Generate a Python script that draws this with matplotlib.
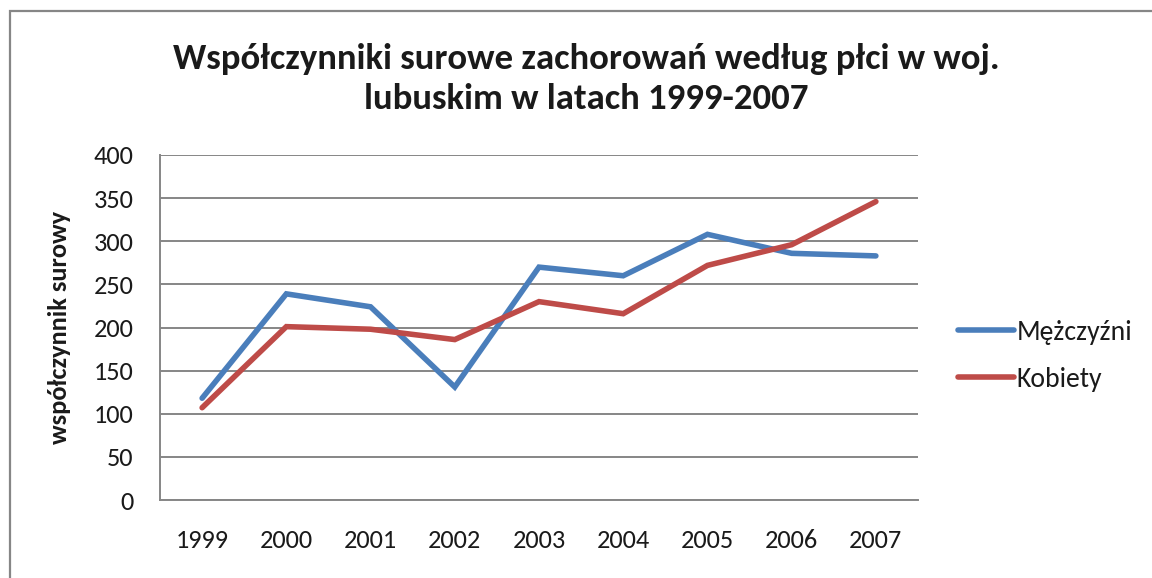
import matplotlib
matplotlib.use("Agg")
import matplotlib.pyplot as plt
from matplotlib.patches import Rectangle

years = ["1999", "2000", "2001", "2002", "2003", "2004", "2005", "2006", "2007"]
men = [118, 239, 224, 131, 270, 260, 308, 286, 283]
women = [107, 201, 198, 186, 230, 216, 272, 296, 346]
yticks = [0, 50, 100, 150, 200, 250, 300, 350, 400]
title = "Współczynniki surowe zachorowań według płci w woj.\nlubuskim w latach 1999-2007"
ylabel = "współczynnik surowy"
series_names = ["Mężczyźni", "Kobiety"]

plt.rcParams["font.family"] = ["Carlito", "DejaVu Sans"]

W, H = 1152, 578
fig = plt.figure(figsize=(W / 100, H / 100), dpi=100)
ax = fig.add_axes([160 / W, 1 - 500 / H, (918 - 160) / W, (500 - 155) / H])

grid_c = "#868686"
x = list(range(len(years)))
ax.plot(x, men, color="#4A7EBB", lw=4.0, solid_capstyle="round", solid_joinstyle="miter", label=series_names[0], zorder=3)
ax.plot(x, women, color="#BE4B48", lw=4.0, solid_capstyle="round", solid_joinstyle="miter", label=series_names[1], zorder=3)

ax.set_xlim(-0.5, len(years) - 0.5)
ax.set_ylim(0, 400)
ax.set_yticks(yticks)
ax.set_yticklabels([str(v) for v in yticks])
ax.set_xticks(x)
ax.set_xticklabels(years)
ax.yaxis.grid(True, color=grid_c, lw=1.4)
ax.set_axisbelow(True)
for s in ["top", "right"]:
    ax.spines[s].set_visible(False)
for s in ["left", "bottom"]:
    ax.spines[s].set_color(grid_c)
    ax.spines[s].set_linewidth(1.4)
ax.tick_params(axis="both", length=0, labelsize=19, colors="#1a1a1a")
ax.tick_params(axis="y", pad=19)
ax.tick_params(axis="x", pad=21)

ax.set_ylabel(ylabel, fontsize=19, fontweight="bold", color="#1a1a1a")
ax.yaxis.set_label_coords((71 - 160) / 758, 0.5)

fig.text(586 / W, 1 - 79 / H, title, ha="center", va="center", fontsize=26.5,
         fontweight="bold", color="#1a1a1a", linespacing=1.3)

fig.legend(loc="center left", bbox_to_anchor=(958 / W, 1 - 356 / H), frameon=False,
           fontsize=20, handlelength=2.0, handletextpad=0.1, labelspacing=0.78,
           borderpad=0, borderaxespad=0, labelcolor="#1a1a1a")

fig.patches.append(Rectangle((10 / W, -0.1), 1.2, 1 - 11 / H + 0.1, transform=fig.transFigure,
                             fill=False, edgecolor=grid_c, lw=1.6))

fig.savefig("out.png", dpi=100)
